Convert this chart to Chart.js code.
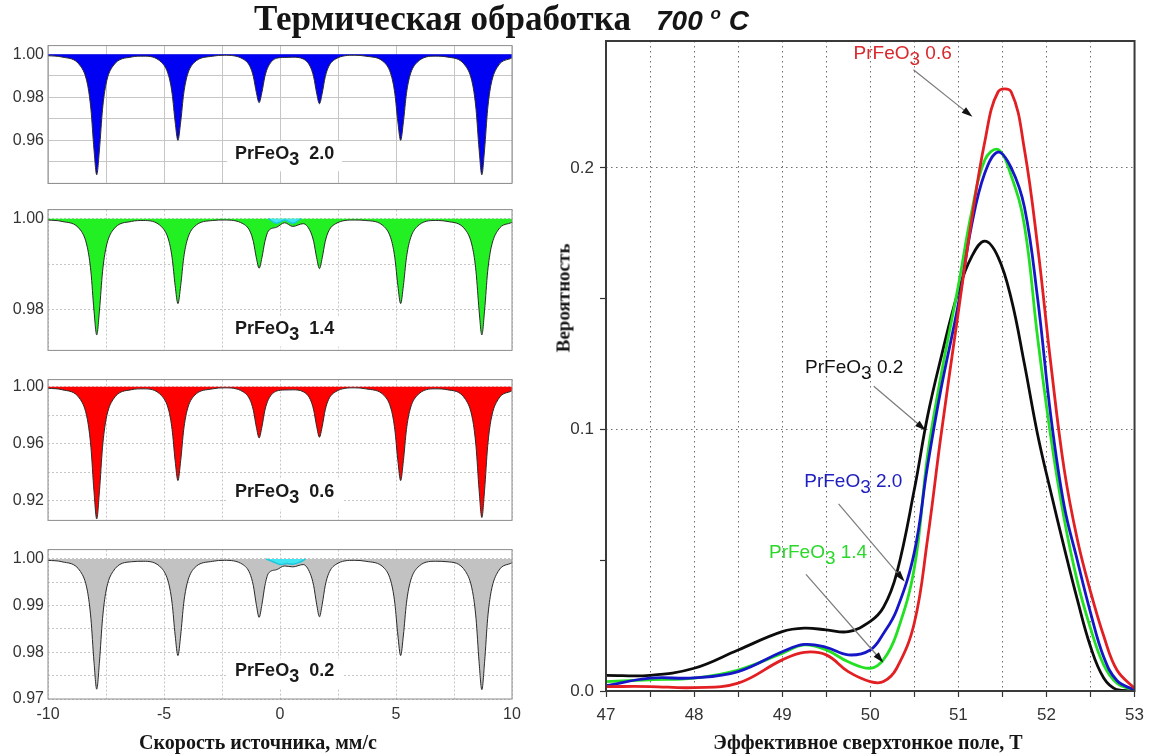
<!DOCTYPE html>
<html>
<head>
<meta charset="utf-8">
<script src="https://cdn.jsdelivr.net/npm/chart.js@4.4.1/dist/chart.umd.min.js"></script>
<style>
    body { margin: 0; background: #fff; width: 1152px; height: 756px; position: relative; overflow: hidden; }
    canvas { position: absolute; }
    .txt { position: absolute; white-space: nowrap; color: #151515; z-index: 2; line-height: 1; }
    .serif { font-family: "Liberation Serif", "DejaVu Serif", serif; font-weight: bold; }
</style>
</head>
<body>
<div class="txt serif" style="left:254px; top:1px; font-size:35px;">Термическая обработка</div>
<div class="txt" style="left:656px; top:5px; font: italic bold 28px 'Liberation Sans', Arial, sans-serif;">700 <span style="font-size:17px; position:relative; top:-11px;">o</span> C</div>

<canvas id="spec20" width="530" height="165" style="left:0; top:32px;"></canvas>
<canvas id="spec14" width="530" height="168" style="left:0; top:196px;"></canvas>
<canvas id="spec06" width="530" height="168" style="left:0; top:366px;"></canvas>
<canvas id="spec02" width="530" height="193" style="left:0; top:536px;"></canvas>
<canvas id="fieldChart" width="612" height="756" style="left:540px; top:0;"></canvas>

<div class="txt serif" style="left:258px; top:742px; font-size:20px; transform:translate(-50%,-50%);">Скорость источника, мм/с</div>
<div class="txt serif" style="left:868px; top:742px; font-size:20px; transform:translate(-50%,-50%);">Эффективное сверхтонкое поле, Т</div>
<div class="txt serif" style="left:563px; top:298px; font-size:19px; transform:translate(-50%,-50%) rotate(-90deg);">Вероятность</div>

<script>
// Mossbauer spectra (left) and hyperfine field distributions (right)

// velocity grid shared by the four spectra, mm/s
const velocity = [
    -10, -9.4, -8.6, -8.3, -8.15, -8.02, -7.9, -7.78, -7.65, -7.5, -7.2, -6.4,
    -5.9, -5.1, -4.8, -4.65, -4.52, -4.4, -4.28, -4.15, -4.0, -3.7, -2.9,
    -2.4, -1.6, -1.3, -1.15, -1.02, -0.9, -0.78, -0.65, -0.5, -0.15,
    0.2, 0.55,
    1.0, 1.3, 1.45, 1.58, 1.7, 1.82, 1.95, 2.1, 2.4, 3.2,
    3.7, 4.5, 4.8, 4.95, 5.08, 5.2, 5.32, 5.45, 5.6, 5.9, 6.7,
    7.2, 8.0, 8.3, 8.45, 8.58, 8.7, 8.82, 8.95, 9.1, 9.4, 10
];

// relative transmission, PrFeO3 2.0
const spec20 = [
    0.9993, 0.9987, 0.9945, 0.9861, 0.9744, 0.9560, 0.944, 0.9560, 0.9744, 0.9861, 0.9945, 0.9987,
    0.9991, 0.9961, 0.9900, 0.9817, 0.9686, 0.960, 0.9686, 0.9817, 0.9900, 0.9961, 0.9991,
    0.9995, 0.9978, 0.9944, 0.9897, 0.9823, 0.9775, 0.9823, 0.9897, 0.9944, 0.9981,
    0.9985, 0.9986,
    0.9978, 0.9943, 0.9895, 0.9819, 0.977, 0.9819, 0.9895, 0.9943, 0.9978, 0.9995,
    0.9991, 0.9961, 0.9900, 0.9817, 0.9686, 0.960, 0.9686, 0.9817, 0.9900, 0.9961, 0.9991,
    0.9987, 0.9945, 0.9861, 0.9744, 0.9560, 0.944, 0.9560, 0.9744, 0.9861, 0.9945, 0.9983
];
// PrFeO3 1.4
const spec14 = [
    0.9997, 0.9994, 0.9975, 0.9936, 0.9883, 0.9799, 0.9744, 0.9799, 0.9883, 0.9936, 0.9975, 0.9994,
    0.9996, 0.9982, 0.9953, 0.9914, 0.9853, 0.9813, 0.9853, 0.9914, 0.9953, 0.9982, 0.9996,
    0.9997, 0.9989, 0.9973, 0.9950, 0.9914, 0.9891, 0.9914, 0.9950, 0.9973, 0.9981,
    0.9991, 0.9983,
    0.9989, 0.9973, 0.9950, 0.9914, 0.989, 0.9914, 0.9950, 0.9973, 0.9989, 0.9997,
    0.9996, 0.9982, 0.9953, 0.9914, 0.9853, 0.9813, 0.9853, 0.9914, 0.9953, 0.9982, 0.9996,
    0.9994, 0.9975, 0.9936, 0.9883, 0.9799, 0.9744, 0.9799, 0.9883, 0.9936, 0.9975, 0.9992
];
// PrFeO3 0.6
const spec06 = [
    0.9989, 0.9979, 0.9909, 0.9768, 0.9574, 0.9269, 0.907, 0.9269, 0.9574, 0.9768, 0.9909, 0.9979,
    0.9985, 0.9936, 0.9836, 0.9698, 0.9481, 0.934, 0.9481, 0.9698, 0.9836, 0.9936, 0.9985,
    0.9992, 0.9965, 0.9910, 0.9835, 0.9717, 0.964, 0.9717, 0.9835, 0.9910, 0.9969,
    0.9977, 0.9978,
    0.9965, 0.9912, 0.9837, 0.9721, 0.9645, 0.9721, 0.9837, 0.9912, 0.9965, 0.9992,
    0.9985, 0.9936, 0.9836, 0.9698, 0.9481, 0.934, 0.9481, 0.9698, 0.9836, 0.9936, 0.9985,
    0.9979, 0.9910, 0.9771, 0.9579, 0.9277, 0.908, 0.9277, 0.9579, 0.9771, 0.9910, 0.9972
];
// PrFeO3 0.2
const spec02 = [
    0.9997, 0.9994, 0.9973, 0.9931, 0.9872, 0.9781, 0.9721, 0.9781, 0.9872, 0.9931, 0.9973, 0.9994,
    0.9995, 0.9980, 0.9948, 0.9905, 0.9837, 0.9793, 0.9837, 0.9905, 0.9948, 0.9980, 0.9995,
    0.9997, 0.9988, 0.9969, 0.9943, 0.9902, 0.9875, 0.9902, 0.9943, 0.9969, 0.9977,
    0.9985, 0.9983,
    0.9988, 0.9969, 0.9943, 0.9903, 0.9876, 0.9903, 0.9943, 0.9969, 0.9988, 0.9997,
    0.9995, 0.9980, 0.9948, 0.9905, 0.9837, 0.9793, 0.9837, 0.9905, 0.9948, 0.9980, 0.9995,
    0.9994, 0.9973, 0.9930, 0.9872, 0.9780, 0.972, 0.9780, 0.9872, 0.9930, 0.9973, 0.9992
];

// small central doublet (cyan)
const doubletVel14 = [-0.5, -0.15, 0.2, 0.55, 0.9];
const doubletAbs14 = [1.0, 0.999, 0.9997, 0.999, 1.0];
const doubletVel02 = [-0.6, -0.3, 0.0, 0.3, 0.6, 0.9, 1.1];
const doubletAbs02 = [1.0, 0.9994, 0.9988, 0.999, 0.9989, 0.9994, 1.0];

// left axes
const velGrid = [-10, -7.5, -5, -2.5, 0, 2.5, 5, 7.5, 10];
const velLabels = ['-10', '-5', '0', '5', '10'];
const absGrid20 = [0.94, 0.95, 0.96, 0.97, 0.98, 0.99, 1.00];
const absLabels20 = ['1.00', '0.98', '0.96'];
const absGrid14 = [0.98, 0.99, 1.00];
const absLabels14 = ['1.00', '0.98'];
const absGrid06 = [0.92, 0.94, 0.96, 0.98, 1.00];
const absLabels06 = ['1.00', '0.96', '0.92'];
const absGrid02 = [0.97, 0.975, 0.98, 0.985, 0.99, 0.995, 1.00];
const absLabels02 = ['1.00', '0.99', '0.98', '0.97'];

// hyperfine field distribution, T
const field = [47, 47.5, 48, 48.5, 49, 49.25, 49.5, 49.75, 50, 50.15, 50.3, 50.5, 50.65, 50.8,
    51, 51.15, 51.3, 51.45, 51.6, 51.75, 51.9, 52.05, 52.2, 52.35, 52.5, 52.65, 52.8, 53];
const prob02 = [0.006, 0.006, 0.0087, 0.0157, 0.0227, 0.024, 0.0234, 0.0227, 0.0266, 0.032, 0.045, 0.077, 0.105, 0.127,
    0.153, 0.166, 0.172, 0.166, 0.15, 0.125, 0.098, 0.076, 0.055, 0.035, 0.017, 0.005, 0.0005, 0];
const prob20 = [0.002, 0.0049, 0.005, 0.0074, 0.015, 0.0178, 0.0167, 0.0138, 0.0157, 0.022, 0.031, 0.053, 0.086, 0.115,
    0.148, 0.178, 0.198, 0.206, 0.2, 0.185, 0.15, 0.105, 0.071, 0.05, 0.03, 0.013, 0.004, 0.0003];
const prob14 = [0.0036, 0.0043, 0.0049, 0.008, 0.0144, 0.0176, 0.0157, 0.0112, 0.0087, 0.012, 0.022, 0.047, 0.09, 0.12,
    0.155, 0.183, 0.203, 0.207, 0.197, 0.178, 0.135, 0.097, 0.066, 0.042, 0.024, 0.01, 0.003, 0.0003];
const prob06 = [0.0017, 0.0017, 0.0013, 0.003, 0.0119, 0.0148, 0.0138, 0.0074, 0.0036, 0.0036, 0.0087, 0.026, 0.058, 0.097,
    0.145, 0.18, 0.21, 0.229, 0.229, 0.207, 0.17, 0.125, 0.085, 0.058, 0.038, 0.021, 0.008, 0.001];

const fieldGrid = [47, 47.5, 48, 48.5, 49, 49.5, 50, 50.5, 51, 51.5, 52, 52.5, 53];
const fieldLabels = ['47', '48', '49', '50', '51', '52', '53'];
const probGrid = [0, 0.05, 0.1, 0.15, 0.2];
const probLabels = ['0.0', '0.1', '0.2'];
const probGridLines = [0.1, 0.2];

const SANS = "'Liberation Sans', Arial, sans-serif";

function toPoints(xs, ys) {
    return xs.map((x, i) => ({ x: x, y: ys[i] }));
}

function pickLabel(list) {
    return value => list.find(s => Math.abs(Number(s) - value) < 1e-9) || '';
}

function setTicks(values) {
    return scale => { scale.ticks = values.map(v => ({ value: v })); };
}

// "PrFeO" + subscript 3 + tail
function drawFormula(ctx, x, y, tail, font, color, centered) {
    ctx.save();
    ctx.font = font;
    ctx.fillStyle = color;
    ctx.textBaseline = 'middle';
    ctx.textAlign = 'left';
    const w1 = ctx.measureText('PrFeO').width;
    const w2 = ctx.measureText('3').width;
    const w3 = ctx.measureText(tail).width;
    let start = centered ? x - (w1 + w2 + w3) / 2 : x;
    ctx.fillText('PrFeO', start, y);
    ctx.fillText('3', start + w1, y + 6);
    ctx.fillText(tail, start + w1 + w2, y);
    ctx.restore();
    return w1 + w2 + w3;
}

// frame around the plot area
const framePlugin = {
    id: 'frame',
    afterDatasetsDraw(chart, args, opts) {
        const { ctx, chartArea: a } = chart;
        ctx.save();
        ctx.strokeStyle = opts.color || '#888';
        ctx.lineWidth = opts.width || 1;
        ctx.strokeRect(a.left, a.top, a.right - a.left, a.bottom - a.top);
        ctx.restore();
    }
};

// sample name inside each spectrum panel, white box behind it
const samplePlugin = {
    id: 'sample',
    afterDatasetsDraw(chart, args, opts) {
        if (!opts.text) return;
        const ctx = chart.ctx;
        const x = chart.scales.x.getPixelForValue(opts.x);
        const y = chart.scales.y.getPixelForValue(opts.y);
        const font = 'bold 18px ' + SANS;
        ctx.save();
        ctx.font = font;
        const w = ctx.measureText('PrFeO3' + opts.text).width;
        ctx.fillStyle = '#fff';
        ctx.fillRect(x - w / 2 - 8, y - 13, w + 16, 30);
        ctx.restore();
        drawFormula(ctx, x, y, opts.text, font, '#1a1a1a', true);
    }
};

// labels with arrows on the distribution chart
const arrowPlugin = {
    id: 'arrows',
    afterDatasetsDraw(chart, args, opts) {
        const ctx = chart.ctx;
        const sx = chart.scales.x, sy = chart.scales.y;
        (opts.items || []).forEach(item => {
            drawFormula(ctx, sx.getPixelForValue(item.label[0]), sy.getPixelForValue(item.label[1]),
                ' ' + item.text, '19px ' + SANS, item.color, false);
            const x1 = sx.getPixelForValue(item.from[0]), y1 = sy.getPixelForValue(item.from[1]);
            const x2 = sx.getPixelForValue(item.to[0]), y2 = sy.getPixelForValue(item.to[1]);
            const ang = Math.atan2(y2 - y1, x2 - x1);
            ctx.save();
            ctx.strokeStyle = '#7a7a7a';
            ctx.lineWidth = 1.2;
            ctx.beginPath();
            ctx.moveTo(x1, y1);
            ctx.lineTo(x2 - 8 * Math.cos(ang), y2 - 8 * Math.sin(ang));
            ctx.stroke();
            ctx.fillStyle = '#111';
            ctx.beginPath();
            ctx.moveTo(x2, y2);
            ctx.lineTo(x2 - 11 * Math.cos(ang) + 3.5 * Math.sin(ang), y2 - 11 * Math.sin(ang) - 3.5 * Math.cos(ang));
            ctx.lineTo(x2 - 11 * Math.cos(ang) - 3.5 * Math.sin(ang), y2 - 11 * Math.sin(ang) + 3.5 * Math.cos(ang));
            ctx.closePath();
            ctx.fill();
            ctx.restore();
        });
    }
};

Chart.register(framePlugin, samplePlugin, arrowPlugin);

function createSpectrum(canvasId, cfg) {
    const ctx = document.getElementById(canvasId);
    if (!ctx) return null;

    const datasets = [{
        data: toPoints(velocity, cfg.values),
        borderColor: '#2a2a2a',
        borderWidth: 1,
        backgroundColor: cfg.fill,
        fill: { value: 1 },
        pointRadius: 0,
        cubicInterpolationMode: 'monotone',
        order: 1
    }];
    if (cfg.doublet) {
        datasets.push({
            data: toPoints(cfg.doublet[0], cfg.doublet[1]),
            borderColor: '#1cc8dc',
            borderWidth: 1.5,
            backgroundColor: '#40e6f2',
            fill: { value: 1 },
            pointRadius: 0,
            tension: 0.4,
            order: 0
        });
    }

    return new Chart(ctx, {
        type: 'line',
        data: { datasets: datasets },
        options: {
            responsive: false,
            animation: false,
            events: [],
            layout: { padding: { top: 6, right: 18, bottom: cfg.showX ? 0 : 6, left: 0 } },
            plugins: {
                legend: { display: false },
                tooltip: { enabled: false },
                frame: { color: '#8c8c8c', width: 1 },
                sample: { text: cfg.label, x: 0.2, y: cfg.labelY }
            },
            scales: {
                x: {
                    type: 'linear',
                    min: -10,
                    max: 10,
                    afterBuildTicks: setTicks(velGrid),
                    afterFit: s => { s.height = cfg.showX ? 30 : 0; },
                    ticks: {
                        display: !!cfg.showX,
                        autoSkip: false,
                        maxRotation: 0,
                        padding: 6,
                        color: '#333',
                        font: { family: SANS, size: 16 },
                        callback: pickLabel(velLabels)
                    },
                    grid: { color: '#c6c6c6', drawTicks: false },
                    border: { display: false, dash: cfg.dash }
                },
                y: {
                    type: 'linear',
                    min: cfg.min,
                    max: cfg.max,
                    afterBuildTicks: setTicks(cfg.grid),
                    afterFit: s => { s.width = 48; },
                    ticks: {
                        autoSkip: false,
                        padding: 4,
                        color: '#333',
                        font: { family: SANS, size: 16 },
                        callback: pickLabel(cfg.labels)
                    },
                    grid: { color: '#c6c6c6', drawTicks: false },
                    border: { display: false, dash: cfg.dash }
                }
            }
        }
    });
}

createSpectrum('spec20', { values: spec20, fill: '#0000f2', min: 0.94, max: 1.004, grid: absGrid20, labels: absLabels20, label: '  2.0', labelY: 0.9535, dash: [] });
createSpectrum('spec14', { values: spec14, fill: '#22f022', min: 0.971, max: 1.002, grid: absGrid14, labels: absLabels14, label: '  1.4', labelY: 0.9756, dash: [2, 2], doublet: [doubletVel14, doubletAbs14] });
createSpectrum('spec06', { values: spec06, fill: '#ff0000', min: 0.906, max: 1.005, grid: absGrid06, labels: absLabels06, label: '  0.6', labelY: 0.9257, dash: [2, 2] });
createSpectrum('spec02', { values: spec02, fill: '#c2c2c2', min: 0.97, max: 1.002, grid: absGrid02, labels: absLabels02, label: '  0.2', labelY: 0.9759, dash: [2, 2], doublet: [doubletVel02, doubletAbs02], showX: true });

function createFieldChart() {
    const ctx = document.getElementById('fieldChart');
    if (!ctx) return null;

    const curve = (values, color) => ({
        data: toPoints(field, values),
        borderColor: color,
        borderWidth: 2.8,
        pointRadius: 0,
        fill: false,
        tension: 0.4
    });

    return new Chart(ctx, {
        type: 'line',
        data: {
            datasets: [
                curve(prob06, '#e21f23'),
                curve(prob20, '#1616c8'),
                curve(prob14, '#22e022'),
                curve(prob02, '#0c0c0c')
            ]
        },
        options: {
            responsive: false,
            animation: false,
            events: [],
            layout: { padding: { top: 41, right: 15, bottom: 25, left: 0 } },
            plugins: {
                legend: { display: false },
                tooltip: { enabled: false },
                frame: { color: '#3a3a3a', width: 2 },
                arrows: {
                    items: [
                        { text: '0.6', color: '#d8282c', label: [49.81, 0.2435], from: [50.49, 0.2375], to: [51.16, 0.2195] },
                        { text: '0.2', color: '#111', label: [49.26, 0.1235], from: [50.04, 0.1165], to: [50.63, 0.0996] },
                        { text: '2.0', color: '#2020c0', label: [49.25, 0.080], from: [49.64, 0.0715], to: [50.39, 0.0419] },
                        { text: '1.4', color: '#2ad82a', label: [48.85, 0.053], from: [49.27, 0.0446], to: [50.15, 0.0108] }
                    ]
                }
            },
            scales: {
                x: {
                    type: 'linear',
                    min: 47,
                    max: 53,
                    afterBuildTicks: setTicks(fieldGrid),
                    afterFit: s => { s.height = 40; },
                    ticks: {
                        autoSkip: false,
                        maxRotation: 0,
                        padding: 8,
                        color: '#333',
                        font: { family: SANS, size: 17 },
                        callback: pickLabel(fieldLabels)
                    },
                    grid: {
                        color: c => (c.tick && c.tick.value > 47 && c.tick.value < 53) ? '#6e6e6e' : 'rgba(0,0,0,0)',
                        tickColor: '#333',
                        tickLength: 6,
                        tickWidth: 1.2,
                        lineWidth: 1
                    },
                    border: { display: false, dash: [1.5, 3.5] }
                },
                y: {
                    type: 'linear',
                    min: 0,
                    max: 0.2485,
                    afterBuildTicks: setTicks(probGrid),
                    afterFit: s => { s.width = 66; },
                    ticks: {
                        autoSkip: false,
                        padding: 6,
                        color: '#333',
                        font: { family: SANS, size: 17 },
                        callback: pickLabel(probLabels)
                    },
                    grid: {
                        color: c => (c.tick && probGridLines.some(v => Math.abs(v - c.tick.value) < 1e-9)) ? '#6e6e6e' : 'rgba(0,0,0,0)',
                        tickColor: '#333',
                        tickLength: 6,
                        tickWidth: 1.2,
                        lineWidth: 1
                    },
                    border: { display: false, dash: [1.5, 3.5] }
                }
            }
        }
    });
}

createFieldChart();
</script>
</body>
</html>
